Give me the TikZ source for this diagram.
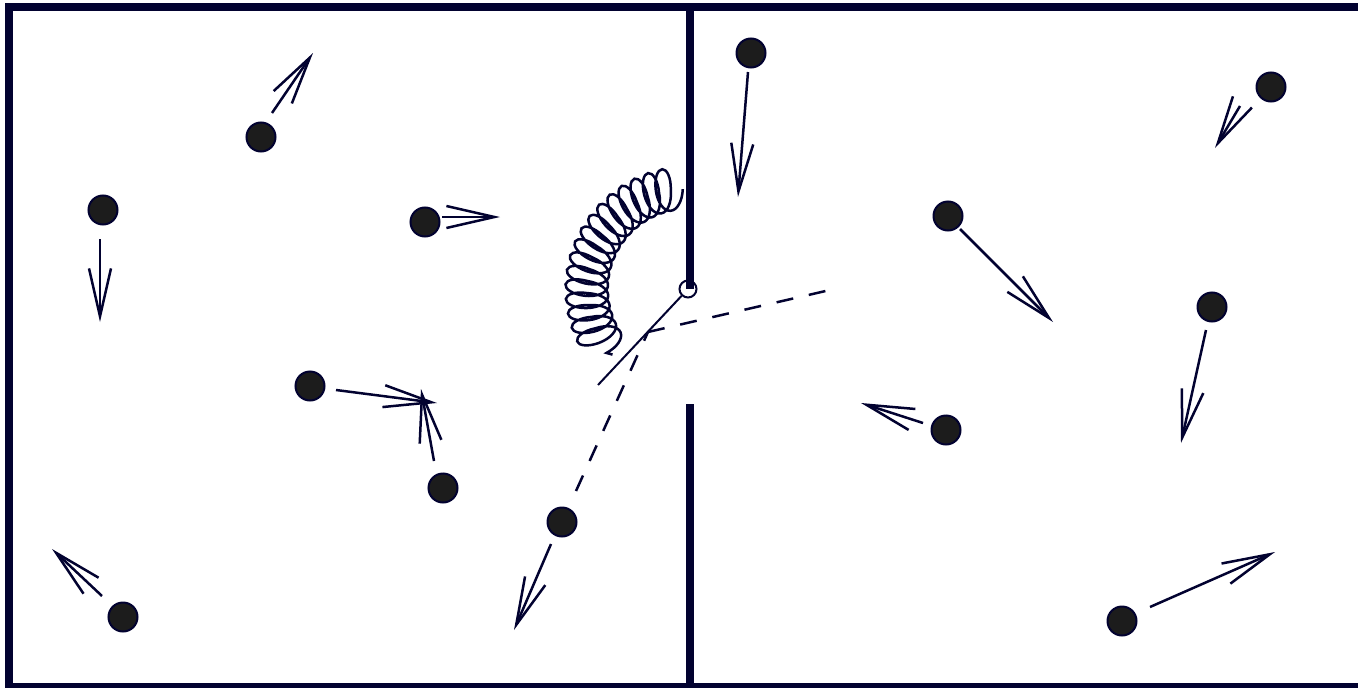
\documentclass[tikz,border=0pt]{standalone}
\usetikzlibrary{arrows.meta,decorations.pathmorphing}
\definecolor{ink}{RGB}{2,2,48}
\definecolor{ballfill}{RGB}{28,28,28}
\begin{document}
\begin{tikzpicture}[x=1pt,y=-1pt,
  wall/.style={draw=ink, line width=8pt},
  ball/.style={circle, draw=ink, fill=ballfill, line width=2pt, minimum size=29pt, inner sep=0pt},
  vel/.style={draw=ink, line width=2.5pt, -{Straight Barb[length=48pt,width=22pt]}},
  trace/.style={draw=ink, line width=2.5pt, dash pattern=on 17pt off 16pt},
  spring/.style={draw=ink, line width=2.5pt, decorate,
    decoration={coil, amplitude=21pt, segment length=12pt, aspect=0.5}},
  hingestyle/.style={circle, draw=ink, line width=2pt, minimum size=17pt, inner sep=0pt}]
\useasboundingbox (0,0) rectangle (1358,688);

% container and the partition with its opening
\draw[wall] (1370,7) -- (9,7) -- (9,687) -- (1370,687);
\coordinate (pivot) at (688,289);
\draw[wall] (690,7) -- (690,289);
\draw[wall] (690,404) -- (690,687);

% hinged trapdoor held by a spring
\node[hingestyle] (hinge) at (pivot) {};
\coordinate (flapend) at (598,385);
\draw[ink, line width=2pt] (hinge) -- (flapend);
\draw[spring] ([shift={(267:100)}]pivot) arc[start angle=267, end angle=139, radius=100];

% path of a molecule bouncing off the trapdoor
\coordinate (bounce) at (648,332);
\coordinate (traceR) at (830,290);
\coordinate (traceL) at (576,491);
\draw[trace] (bounce) -- (traceR);
\draw[trace] (traceL) -- (bounce);

% molecules and their velocities
\foreach \n/\bx/\by/\tx/\ty/\hx/\hy in {
  1/261/137/272/113/313/53,
  2/103/210/100/239/100/322,
  3/425/222/442/217/500/217,
  4/310/386/336/390/437/403,
  5/443/488/434/461/421/389,
  6/562/522/551/544/514/630,
  7/123/617/102/596/52/549,
  8/751/53/748/72/738/197,
  9/1271/87/1240/106/1215/148,
  10/948/216/960/229/1053/322,
  11/1212/307/1206/330/1181/443,
  12/946/430/923/423/861/403,
  13/1122/621/1150/607/1275/552}{
  \node[ball] (b\n) at (\bx,\by) {};
  \coordinate (t\n) at (\tx,\ty);
  \coordinate (h\n) at (\hx,\hy);
  \draw[vel] (t\n) -- (h\n);
}
\end{tikzpicture}
\end{document}
